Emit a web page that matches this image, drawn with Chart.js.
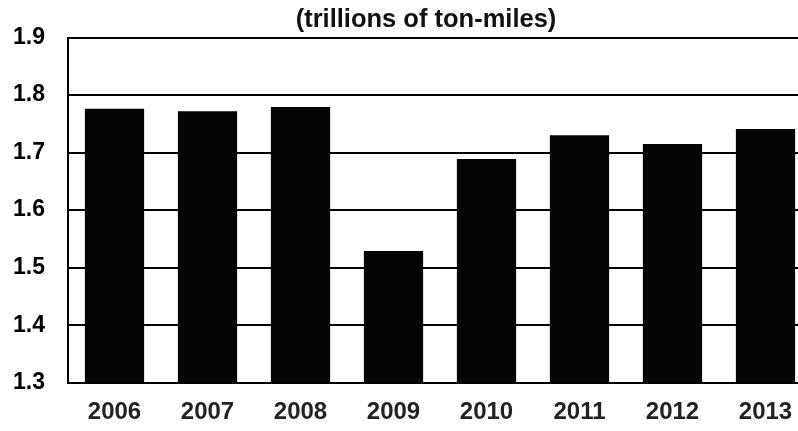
<!DOCTYPE html>
<html>
<head>
<meta charset="utf-8">
<script src="https://cdn.jsdelivr.net/npm/chart.js@4/dist/chart.umd.min.js"></script>
<style>
  html, body { margin: 0; padding: 0; background: #fff; overflow: hidden; width: 798px; height: 431px; }
  #wrap { position: absolute; left: 0; top: 0; width: 812px; height: 431px; }
</style>
</head>
<body>
<div id="wrap"><canvas id="c" width="812" height="431"></canvas></div>
<script>
const years = ["2006", "2007", "2008", "2009", "2010", "2011", "2012", "2013"];
const tonMiles = [1.776, 1.772, 1.779, 1.529, 1.689, 1.730, 1.715, 1.741];
const yTicks = [1.3, 1.4, 1.5, 1.6, 1.7, 1.8, 1.9];
const titleText = "(trillions of ton-miles)";

const titlePlugin = {
  id: "offsetTitle",
  afterDraw(chart) {
    const ctx = chart.ctx;
    ctx.save();
    ctx.fillStyle = "#111";
    ctx.font = "bold 25.5px 'Liberation Sans'";
    ctx.textAlign = "center";
    ctx.textBaseline = "middle";
    ctx.fillText(titleText, 426, 20);
    ctx.restore();
  }
};

new Chart(document.getElementById("c"), {
  type: "bar",
  data: {
    labels: years,
    datasets: [{
      data: tonMiles,
      backgroundColor: "#050505",
      borderWidth: 0,
      barPercentage: 0.637,
      categoryPercentage: 1.0
    }]
  },
  plugins: [titlePlugin],
  options: {
    responsive: false,
    animation: false,
    devicePixelRatio: 1,
    layout: { padding: { left: 0, right: 0, top: 37.5, bottom: 0 } },
    plugins: {
      legend: { display: false },
      tooltip: { enabled: false },
      title: { display: false }
    },
    scales: {
      x: {
        grid: { display: false, drawTicks: false },
        border: { display: true, color: "#000", width: 2 },
        ticks: {
          color: "#222",
          font: { family: "Liberation Sans", size: 24, weight: "bold" },
          padding: 15.5,
          maxRotation: 0
        },
        afterFit: (s) => { s.height = 48.3; }
      },
      y: {
        min: 1.3,
        max: 1.9,
        afterBuildTicks: (s) => { s.ticks = yTicks.map(v => ({ value: v })); },
        grid: { color: "#000", lineWidth: 2, drawTicks: false },
        border: { display: true, color: "#000", width: 2 },
        ticks: {
          color: "#000",
          font: { family: "Liberation Sans", size: 23, weight: "bold" },
          padding: 23,
          callback: (v) => Number(v).toFixed(1)
        },
        afterFit: (s) => { s.width = 68; }
      }
    }
  }
});
</script>
</body>
</html>
